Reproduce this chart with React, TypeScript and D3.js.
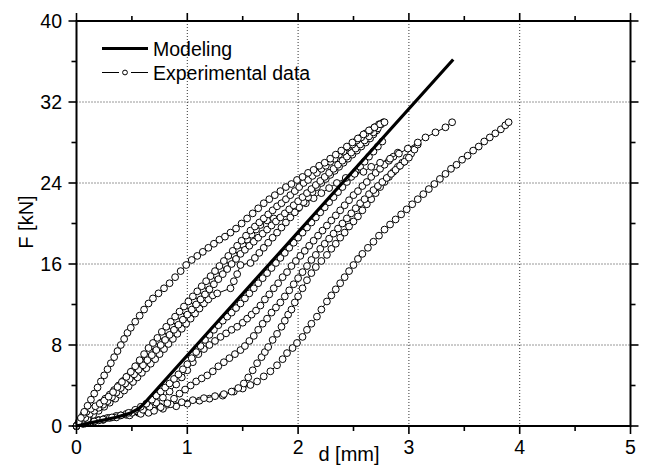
import React from 'react';
import * as d3 from 'd3';

type P = [number, number];

const xTicks = [0, 1, 2, 3, 4, 5];
const yTicks = [0, 8, 16, 24, 32, 40];
const xMinorTicks = [0.5, 1.5, 2.5, 3.5, 4.5];
const yMinorTicks = [4, 12, 20, 28, 36];
const xGrid = [1, 2, 3, 4];
const yGrid = [8, 16, 24, 32];

const legendLabels = ['Modeling', 'Experimental data'];
const xTitle = 'd [mm]';
const yTitle = 'F [kN]';

const modeling: P[] = [[0, 0], [0.18, 0.43], [0.36, 0.86], [0.48, 1.25], [0.56, 1.7], [0.6, 2.1], [3.4, 36.2]];

const expA: P[] = [[0,0],[0.02,0.4],[0.04,0.8],[0.07,1.4],[0.1,2.0],[0.13,2.6],[0.16,3.2],[0.19,3.8],[0.22,4.4],[0.25,5.0],[0.28,5.6],[0.31,6.2],[0.34,6.8],[0.37,7.4],[0.4,8.0],[0.43,8.6],[0.46,9.2],[0.49,9.7],[0.53,10.3],[0.57,10.9],[0.61,11.5],[0.65,12.1],[0.69,12.6],[0.74,13.1],[0.79,13.6],[0.84,14.1],[0.89,14.7],[0.94,15.3],[0.99,15.9],[1.04,16.4],[1.09,16.8],[1.14,17.2],[1.19,17.6],[1.24,18.0],[1.29,18.4],[1.34,18.7],[1.39,19.1],[1.44,19.5],[1.49,20.0],[1.54,20.5],[1.59,21.0],[1.64,21.5],[1.69,22.0],[1.74,22.4],[1.79,22.8],[1.84,23.2],[1.89,23.6],[1.94,23.9],[1.99,24.3],[2.04,24.6],[2.09,25.0],[2.14,25.3],[2.19,25.7],[2.24,26.0],[2.29,26.4],[2.34,26.8],[2.39,27.2],[2.44,27.6],[2.49,28.0],[2.54,28.4],[2.59,28.8],[2.64,29.2],[2.69,29.5],[2.74,29.8],[2.78,30.0]];

const expB1: P[] = [[0,0],[0.03,0.6],[0.06,1.1],[0.09,1.4],[0.13,1.7],[0.17,1.95],[0.21,2.2],[0.25,2.5],[0.29,2.9],[0.33,3.35],[0.37,3.85],[0.41,4.35],[0.45,4.85],[0.49,5.35],[0.53,5.9],[0.57,6.5],[0.61,7.1],[0.65,7.7],[0.69,8.2],[0.73,8.7],[0.77,9.3],[0.81,9.8],[0.85,10.3],[0.89,10.8],[0.93,11.3],[0.97,11.8],[1.01,12.3],[1.05,12.8],[1.09,13.3],[1.13,13.8],[1.17,14.3],[1.21,14.8],[1.25,15.3],[1.29,15.8],[1.33,16.3],[1.37,16.8],[1.41,17.3],[1.45,17.8],[1.49,18.3],[1.53,18.8],[1.57,19.3],[1.61,19.7],[1.65,20.1],[1.69,20.5],[1.73,20.9],[1.77,21.3],[1.81,21.7],[1.85,22.0],[1.89,22.4],[1.93,22.8],[1.97,23.2],[2.01,23.6],[2.05,24.0],[2.09,24.3],[2.13,24.7],[2.17,25.0],[2.21,25.4],[2.25,25.7],[2.29,26.1],[2.33,26.4],[2.37,26.8],[2.41,27.1],[2.45,27.5],[2.49,27.8],[2.53,28.2],[2.57,28.5],[2.61,28.9],[2.65,29.2],[2.69,29.5],[2.73,29.8],[2.77,30.0]];

const expB2: P[] = [[0,0],[0.04,0.4],[0.08,0.8],[0.12,1.2],[0.16,1.5],[0.2,1.8],[0.24,2.1],[0.28,2.45],[0.32,2.85],[0.36,3.3],[0.4,3.75],[0.44,4.2],[0.48,4.65],[0.52,5.1],[0.56,5.55],[0.6,6.0],[0.64,6.5],[0.68,7.0],[0.72,7.5],[0.76,8.0],[0.8,8.5],[0.84,9.0],[0.88,9.5],[0.92,10.0],[0.96,10.5],[1.0,11.0],[1.04,11.5],[1.08,12.0],[1.12,12.5],[1.16,13.0],[1.2,13.5],[1.24,14.0],[1.28,14.5],[1.32,15.0],[1.36,15.5],[1.4,16.0],[1.44,16.5],[1.48,17.0],[1.52,17.4],[1.56,17.8],[1.6,18.2],[1.64,18.6],[1.68,19.0],[1.72,19.4],[1.76,19.8],[1.8,20.2],[1.84,20.6],[1.88,21.0],[1.92,21.4],[1.96,21.8],[2.0,22.2],[2.04,22.6],[2.08,23.0],[2.12,23.4],[2.16,23.8],[2.2,24.2],[2.24,24.6],[2.28,25.0],[2.32,25.4],[2.36,25.8],[2.4,26.2],[2.44,26.6],[2.48,27.0],[2.52,27.4],[2.56,27.8],[2.6,28.2],[2.64,28.6],[2.68,29.0],[2.72,29.4],[2.75,29.8]];

const expB3: P[] = [[0,0],[0.05,0.3],[0.1,0.7],[0.15,1.1],[0.2,1.5],[0.25,1.9],[0.3,2.3],[0.35,2.7],[0.39,3.1],[0.43,3.5],[0.47,3.9],[0.51,4.35],[0.55,4.8],[0.59,5.25],[0.63,5.7],[0.67,6.15],[0.71,6.6],[0.75,7.1],[0.79,7.6],[0.83,8.1],[0.87,8.6],[0.91,9.1],[0.95,9.6],[0.99,10.1],[1.03,10.6],[1.07,11.1],[1.11,11.6],[1.15,12.1],[1.19,12.5],[1.23,12.9],[1.27,13.1],[1.39,13.6],[1.42,14.3],[1.45,15.0],[1.48,15.9],[1.57,16.1],[1.61,16.6],[1.65,17.1],[1.69,17.6],[1.73,18.1],[1.77,18.6],[1.81,19.1],[1.85,19.6],[1.89,20.1],[1.93,20.6],[1.97,21.1],[2.01,21.6],[2.05,22.1],[2.09,22.6],[2.13,23.1],[2.17,23.6],[2.21,24.0],[2.25,24.4],[2.29,24.8],[2.33,25.2],[2.37,25.6],[2.41,26.0],[2.45,26.4],[2.49,26.8],[2.53,27.2],[2.57,27.6],[2.61,28.0],[2.65,28.4],[2.68,28.8],[2.71,29.2]];

const expG: P[] = [[0,0],[0.03,0.5],[0.06,0.9],[0.1,1.3],[0.14,1.6],[0.18,1.9],[0.22,2.3],[0.26,2.7],[0.3,3.1],[0.34,3.55],[0.38,4.0],[0.42,4.45],[0.46,4.9],[0.5,5.4],[0.54,5.9],[0.58,6.4],[0.62,6.9],[0.66,7.4],[0.7,7.9],[0.74,8.4],[0.78,8.9],[0.82,9.4],[0.86,9.9],[0.9,10.4],[0.94,10.9],[0.98,11.4],[1.02,11.9],[1.06,12.4],[1.1,12.9],[1.14,13.4],[1.18,13.9],[1.22,14.4],[1.26,14.9],[1.3,15.4],[1.34,15.9],[1.38,16.4],[1.42,16.9],[1.46,17.4],[1.5,17.9],[1.54,18.4],[1.58,18.9],[1.62,19.4],[1.66,19.85],[1.72,20.3],[1.78,20.5],[1.94,21.0],[2.0,21.5],[2.07,22.0],[2.14,22.5],[2.21,23.0],[2.28,23.5],[2.35,24.0],[2.43,24.5],[2.51,24.9],[2.59,25.1],[2.66,25.6],[2.74,26.0],[2.83,26.4],[2.91,26.9],[2.99,27.4],[3.08,28.0],[3.15,28.5],[3.24,29.0],[3.33,29.5],[3.39,30.0]];

const expM: P[] = [[0,0],[0.08,0.25],[0.16,0.45],[0.24,0.65],[0.32,0.85],[0.4,1.05],[0.47,1.3],[0.53,1.6],[0.58,1.9],[0.63,2.2],[0.68,2.6],[0.72,3.0],[0.76,3.4],[0.8,3.8],[0.84,4.2],[0.88,4.65],[0.92,5.1],[0.96,5.6],[1.0,6.1],[1.04,6.7],[1.08,7.3],[1.12,7.9],[1.16,8.5],[1.2,9.0],[1.24,9.5],[1.28,9.95],[1.32,10.4],[1.36,10.8],[1.4,11.2],[1.44,11.65],[1.48,12.1],[1.52,12.6],[1.56,13.1],[1.6,13.6],[1.64,14.1],[1.68,14.6],[1.72,15.1],[1.76,15.6],[1.8,16.1],[1.84,16.6],[1.88,17.1],[1.92,17.6],[1.96,18.1],[2.0,18.6],[2.04,19.1],[2.08,19.6],[2.12,20.1],[2.16,20.6],[2.2,21.1],[2.24,21.6],[2.28,22.1],[2.32,22.6],[2.36,23.1],[2.4,23.6],[2.44,24.1],[2.48,24.6],[2.52,25.1],[2.56,25.6],[2.6,26.1],[2.64,26.6],[2.68,27.1],[2.72,27.6],[2.76,28.1]];

const expE: P[] = [[0,0],[0.1,0.3],[0.2,0.55],[0.3,0.8],[0.4,1.05],[0.5,1.3],[0.6,1.6],[0.66,1.9],[0.72,2.3],[0.78,2.8],[0.84,3.4],[0.9,4.1],[0.95,4.8],[1.0,5.5],[1.05,6.3],[1.1,7.1],[1.15,7.6],[1.2,8.0],[1.25,8.4],[1.3,8.8],[1.35,9.15],[1.4,9.5],[1.45,9.8],[1.5,10.2],[1.54,10.6],[1.58,11.0],[1.62,11.4],[1.66,11.9],[1.7,12.5],[1.74,13.0],[1.78,13.6],[1.82,14.1],[1.86,14.7],[1.9,15.2],[1.94,15.8],[1.98,16.3],[2.02,16.8],[2.06,17.3],[2.1,17.8],[2.14,18.3],[2.18,18.8],[2.22,19.3],[2.26,19.8],[2.3,20.3],[2.34,20.8],[2.38,21.3],[2.42,21.8],[2.46,22.3],[2.5,22.8],[2.54,23.2],[2.58,23.7],[2.62,24.1],[2.66,24.6],[2.7,25.0],[2.74,25.4],[2.78,25.8],[2.82,26.2],[2.86,26.6],[2.9,27.0]];

const expD: P[] = [[0,0],[0.12,0.3],[0.24,0.6],[0.36,0.85],[0.48,1.05],[0.58,1.2],[0.65,1.3],[0.7,1.5],[0.76,1.85],[0.82,2.25],[0.88,2.7],[0.93,3.2],[0.98,3.6],[1.03,4.0],[1.08,4.4],[1.13,4.7],[1.18,5.0],[1.23,5.4],[1.28,5.9],[1.33,6.3],[1.38,6.7],[1.43,7.1],[1.48,7.5],[1.52,7.9],[1.56,8.4],[1.6,8.9],[1.64,9.5],[1.68,10.1],[1.72,10.6],[1.76,11.2],[1.8,11.7],[1.84,12.2],[1.88,12.8],[1.92,13.4],[1.96,14.0],[2.0,14.6],[2.04,15.2],[2.08,15.8],[2.12,16.4],[2.16,16.9],[2.2,17.5],[2.24,18.0],[2.28,18.5],[2.32,19.0],[2.36,19.5],[2.4,20.0],[2.44,20.5],[2.48,21.0],[2.52,21.5],[2.56,22.0],[2.6,22.4],[2.64,22.9],[2.68,23.3],[2.72,23.7],[2.76,24.1],[2.8,24.5],[2.84,24.9],[2.88,25.3],[2.92,25.7],[2.96,26.1],[3.0,26.5]];

const expC1: P[] = [[0,0],[0.06,0.2],[0.13,0.4],[0.2,0.6],[0.28,0.8],[0.36,1.0],[0.45,1.2],[0.55,1.45],[0.65,1.7],[0.75,1.95],[0.85,2.15],[0.95,2.35],[1.05,2.55],[1.15,2.75],[1.25,2.95],[1.33,3.15],[1.4,3.4],[1.46,3.75],[1.51,4.2],[1.55,4.8],[1.59,5.5],[1.63,6.2],[1.67,6.8],[1.7,7.3],[1.73,7.8],[1.77,8.5],[1.81,9.1],[1.85,9.8],[1.88,10.4],[1.91,11.0],[1.94,11.5],[1.97,12.2],[2.0,12.8],[2.04,13.6],[2.08,14.4],[2.12,15.1],[2.16,15.7],[2.21,16.3],[2.26,16.9],[2.3,17.5],[2.34,18.0],[2.38,18.6],[2.42,19.1],[2.46,19.7],[2.5,20.2],[2.54,20.7],[2.58,21.3],[2.62,21.9],[2.66,22.4],[2.7,23.0],[2.74,23.6],[2.78,24.1],[2.82,24.6],[2.86,25.1],[2.9,25.6],[2.94,26.0],[2.98,26.5],[3.02,26.9],[3.05,27.3],[3.08,27.8]];

const expC2: P[] = [[0,0],[0.08,0.3],[0.16,0.5],[0.25,0.7],[0.35,0.9],[0.45,1.1],[0.56,1.3],[0.67,1.5],[0.78,1.7],[0.9,1.95],[1.0,2.2],[1.11,2.5],[1.2,2.7],[1.32,3.0],[1.42,3.4],[1.5,3.7],[1.57,4.05],[1.63,4.4],[1.69,4.9],[1.75,5.4],[1.81,6.0],[1.86,6.6],[1.9,7.2],[1.95,7.7],[1.99,8.2],[2.04,8.8],[2.08,9.5],[2.12,10.1],[2.17,10.8],[2.21,11.5],[2.26,12.3],[2.3,12.9],[2.34,13.5],[2.38,14.1],[2.42,14.7],[2.46,15.3],[2.5,15.9],[2.54,16.5],[2.58,17.0],[2.63,17.6],[2.68,18.2],[2.73,18.8],[2.78,19.4],[2.83,19.9],[2.88,20.4],[2.93,20.9],[2.98,21.4],[3.03,21.9],[3.08,22.4],[3.13,22.9],[3.18,23.4],[3.23,23.9],[3.28,24.4],[3.33,24.9],[3.38,25.4],[3.43,25.8],[3.48,26.3],[3.53,26.7],[3.58,27.2],[3.63,27.6],[3.68,28.1],[3.73,28.5],[3.78,28.9],[3.83,29.3],[3.87,29.7],[3.9,30.0]];

const experimental: P[][] = [expC2, expC1, expD, expE, expM, expG, expB3, expB2, expB1, expA];

const FONT = 'Liberation Sans, Arial, Helvetica, sans-serif';

export default function App() {
  const x = d3.scaleLinear().domain([0, 5]).range([76.5, 630.5]);
  const y = d3.scaleLinear().domain([0, 40]).range([426, 21]);
  const line = d3.line<P>().x((d) => x(d[0])).y((d) => y(d[1]));
  const [x0, x1] = x.range();
  const [y0, y1] = y.range();
  const major = 8;
  const minor = 5;

  return (
    <svg width={646} height={470} style={{ position: 'absolute', left: 0, top: 0, background: '#fff' }} fontFamily={FONT}>
      <rect x={0} y={0} width={646} height={470} fill="#fff" />
      <g stroke="#333" strokeWidth={1} strokeDasharray="1,2">
        {xGrid.map((t) => (
          <line key={'gx' + t} x1={x(t)} x2={x(t)} y1={y1} y2={y0} />
        ))}
        {yGrid.map((t) => (
          <line key={'gy' + t} x1={x0} x2={x1} y1={y(t)} y2={y(t)} />
        ))}
      </g>
      {experimental.map((s, i) => (
        <g key={'s' + i}>
          <path d={line(s) || ''} fill="none" stroke="#000" strokeWidth={1} />
          {s.map((p, j) => (
            <circle key={j} cx={x(p[0])} cy={y(p[1])} r={3.4} fill="#fff" stroke="#000" strokeWidth={1} />
          ))}
        </g>
      ))}
      <path d={line(modeling) || ''} fill="none" stroke="#000" strokeWidth={3.2} strokeLinejoin="round" />
      <rect x={x0} y={y1} width={x1 - x0} height={y0 - y1} fill="none" stroke="#000" strokeWidth={2} />
      <g stroke="#000" strokeWidth={1.6}>
        {xTicks.map((t) => (
          <g key={'xt' + t}>
            <line x1={x(t)} x2={x(t)} y1={y0} y2={y0 + major} />
            <line x1={x(t)} x2={x(t)} y1={y1} y2={y1 - major} />
          </g>
        ))}
        {xMinorTicks.map((t) => (
          <g key={'xm' + t}>
            <line x1={x(t)} x2={x(t)} y1={y0} y2={y0 + minor} />
            <line x1={x(t)} x2={x(t)} y1={y1} y2={y1 - minor} />
          </g>
        ))}
        {yTicks.map((t) => (
          <g key={'yt' + t}>
            <line x1={x0} x2={x0 - major} y1={y(t)} y2={y(t)} />
            <line x1={x1} x2={x1 + major} y1={y(t)} y2={y(t)} />
          </g>
        ))}
        {yMinorTicks.map((t) => (
          <g key={'ym' + t}>
            <line x1={x0} x2={x0 - minor} y1={y(t)} y2={y(t)} />
            <line x1={x1} x2={x1 + minor} y1={y(t)} y2={y(t)} />
          </g>
        ))}
      </g>
      <g fontSize={19.5} fill="#000">
        {xTicks.map((t) => (
          <text key={'xl' + t} x={x(t)} y={454} textAnchor="middle">{d3.format('d')(t)}</text>
        ))}
        {yTicks.map((t) => (
          <text key={'yl' + t} x={62} y={y(t) + 7} textAnchor="end">{d3.format('d')(t)}</text>
        ))}
      </g>
      <text x={349} y={461} fontSize={20} textAnchor="middle">{xTitle}</text>
      <text transform="translate(33,222) rotate(-90)" fontSize={20} textAnchor="middle">{yTitle}</text>
      <g>
        <line x1={102} x2={148} y1={48.5} y2={48.5} stroke="#000" strokeWidth={3.2} />
        <text x={153} y={56} fontSize={19.5}>{legendLabels[0]}</text>
        <line x1={102} x2={119} y1={72.5} y2={72.5} stroke="#000" strokeWidth={1} />
        <line x1={131} x2={148} y1={72.5} y2={72.5} stroke="#000" strokeWidth={1} />
        <circle cx={125} cy={72.5} r={2.4} fill="#fff" stroke="#000" strokeWidth={1} />
        <text x={153} y={80} fontSize={19.5}>{legendLabels[1]}</text>
      </g>
    </svg>
  );
}
